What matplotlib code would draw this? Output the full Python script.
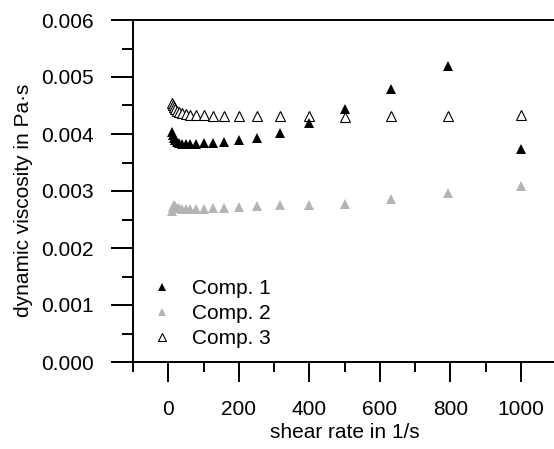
import numpy as np
import matplotlib
matplotlib.use("Agg")
import matplotlib.pyplot as plt
from matplotlib.ticker import MultipleLocator, FormatStrFormatter

plt.rcParams["font.family"] = ["Liberation Sans", "DejaVu Sans"]

# shear rate in 1/s (log spaced, 10 points per decade)
shear = [10, 12.6, 15.8, 20, 25.1, 31.6, 39.8, 50.1, 63.1, 79.4, 100,
         126, 158, 200, 251, 316, 398, 501, 631, 794, 1000]

# dynamic viscosity in Pa*s
comp1 = [4.03e-3, 3.98e-3, 3.93e-3, 3.89e-3, 3.86e-3, 3.84e-3, 3.83e-3,
         3.82e-3, 3.82e-3, 3.83e-3, 3.84e-3, 3.85e-3, 3.86e-3, 3.89e-3,
         3.93e-3, 4.02e-3, 4.19e-3, 4.43e-3, 4.79e-3, 5.19e-3, 3.74e-3]
comp2 = [2.65e-3, 2.72e-3, 2.75e-3, 2.73e-3, 2.71e-3, 2.70e-3, 2.69e-3,
         2.69e-3, 2.69e-3, 2.69e-3, 2.69e-3, 2.70e-3, 2.71e-3, 2.72e-3,
         2.74e-3, 2.75e-3, 2.75e-3, 2.78e-3, 2.86e-3, 2.96e-3, 3.09e-3]
comp3 = [4.55e-3, 4.51e-3, 4.47e-3, 4.43e-3, 4.40e-3, 4.38e-3, 4.36e-3,
         4.35e-3, 4.34e-3, 4.33e-3, 4.33e-3, 4.32e-3, 4.32e-3, 4.32e-3,
         4.32e-3, 4.32e-3, 4.31e-3, 4.30e-3, 4.31e-3, 4.32e-3, 4.33e-3]

W, H = 554, 449
fig = plt.figure(figsize=(W / 100, H / 100), dpi=100)
ax = fig.add_axes([133 / W, 1 - 362 / H, (556 - 133) / W, (362 - 20) / H])

ms = 7.2
ax.plot(shear, comp1, "^", color="black", ms=ms, mew=0, zorder=4, label="Comp. 1")
ax.plot(shear, comp2, "^", color="#b4b4b4", ms=ms, mew=0, zorder=3, label="Comp. 2")
ax.plot(shear, comp3, "^", mfc="white", mec="black", ms=ms, mew=0.8,
        zorder=2, label="Comp. 3")

ax.set_xlim(-100, 1100)
ax.set_ylim(0, 0.006)

ax.xaxis.set_major_locator(MultipleLocator(200))
ax.xaxis.set_minor_locator(MultipleLocator(100))
ax.yaxis.set_major_locator(MultipleLocator(0.001))
ax.yaxis.set_minor_locator(MultipleLocator(0.0005))
ax.yaxis.set_major_formatter(FormatStrFormatter("%.3f"))

for s in ["left", "bottom", "top"]:
    ax.spines[s].set_linewidth(1.4)
ax.spines["right"].set_visible(False)

FS = 15
ax.tick_params(axis="y", which="major", direction="out", length=16, width=1.4,
               labelsize=FS, pad=12.5)
ax.tick_params(axis="y", which="minor", direction="out", length=8, width=1.4)
ax.tick_params(axis="x", which="major", direction="out", length=14.5, width=1.4,
               labelsize=FS, pad=13)
ax.tick_params(axis="x", which="minor", direction="out", length=7.2, width=1.4)

ax.set_xlabel("shear rate in 1/s", fontsize=FS, labelpad=3)
ax.set_ylabel("dynamic viscosity in Pa\u00b7s", fontsize=FS)
ax.yaxis.set_label_coords(-0.236, 0.474)

ax.legend(loc="lower left", bbox_to_anchor=(0.0, -0.015), frameon=False,
          fontsize=FS, markerscale=0.85, handletextpad=0.95, labelspacing=0.3,
          handlelength=1.0)

fig.savefig("out.png", dpi=100)
